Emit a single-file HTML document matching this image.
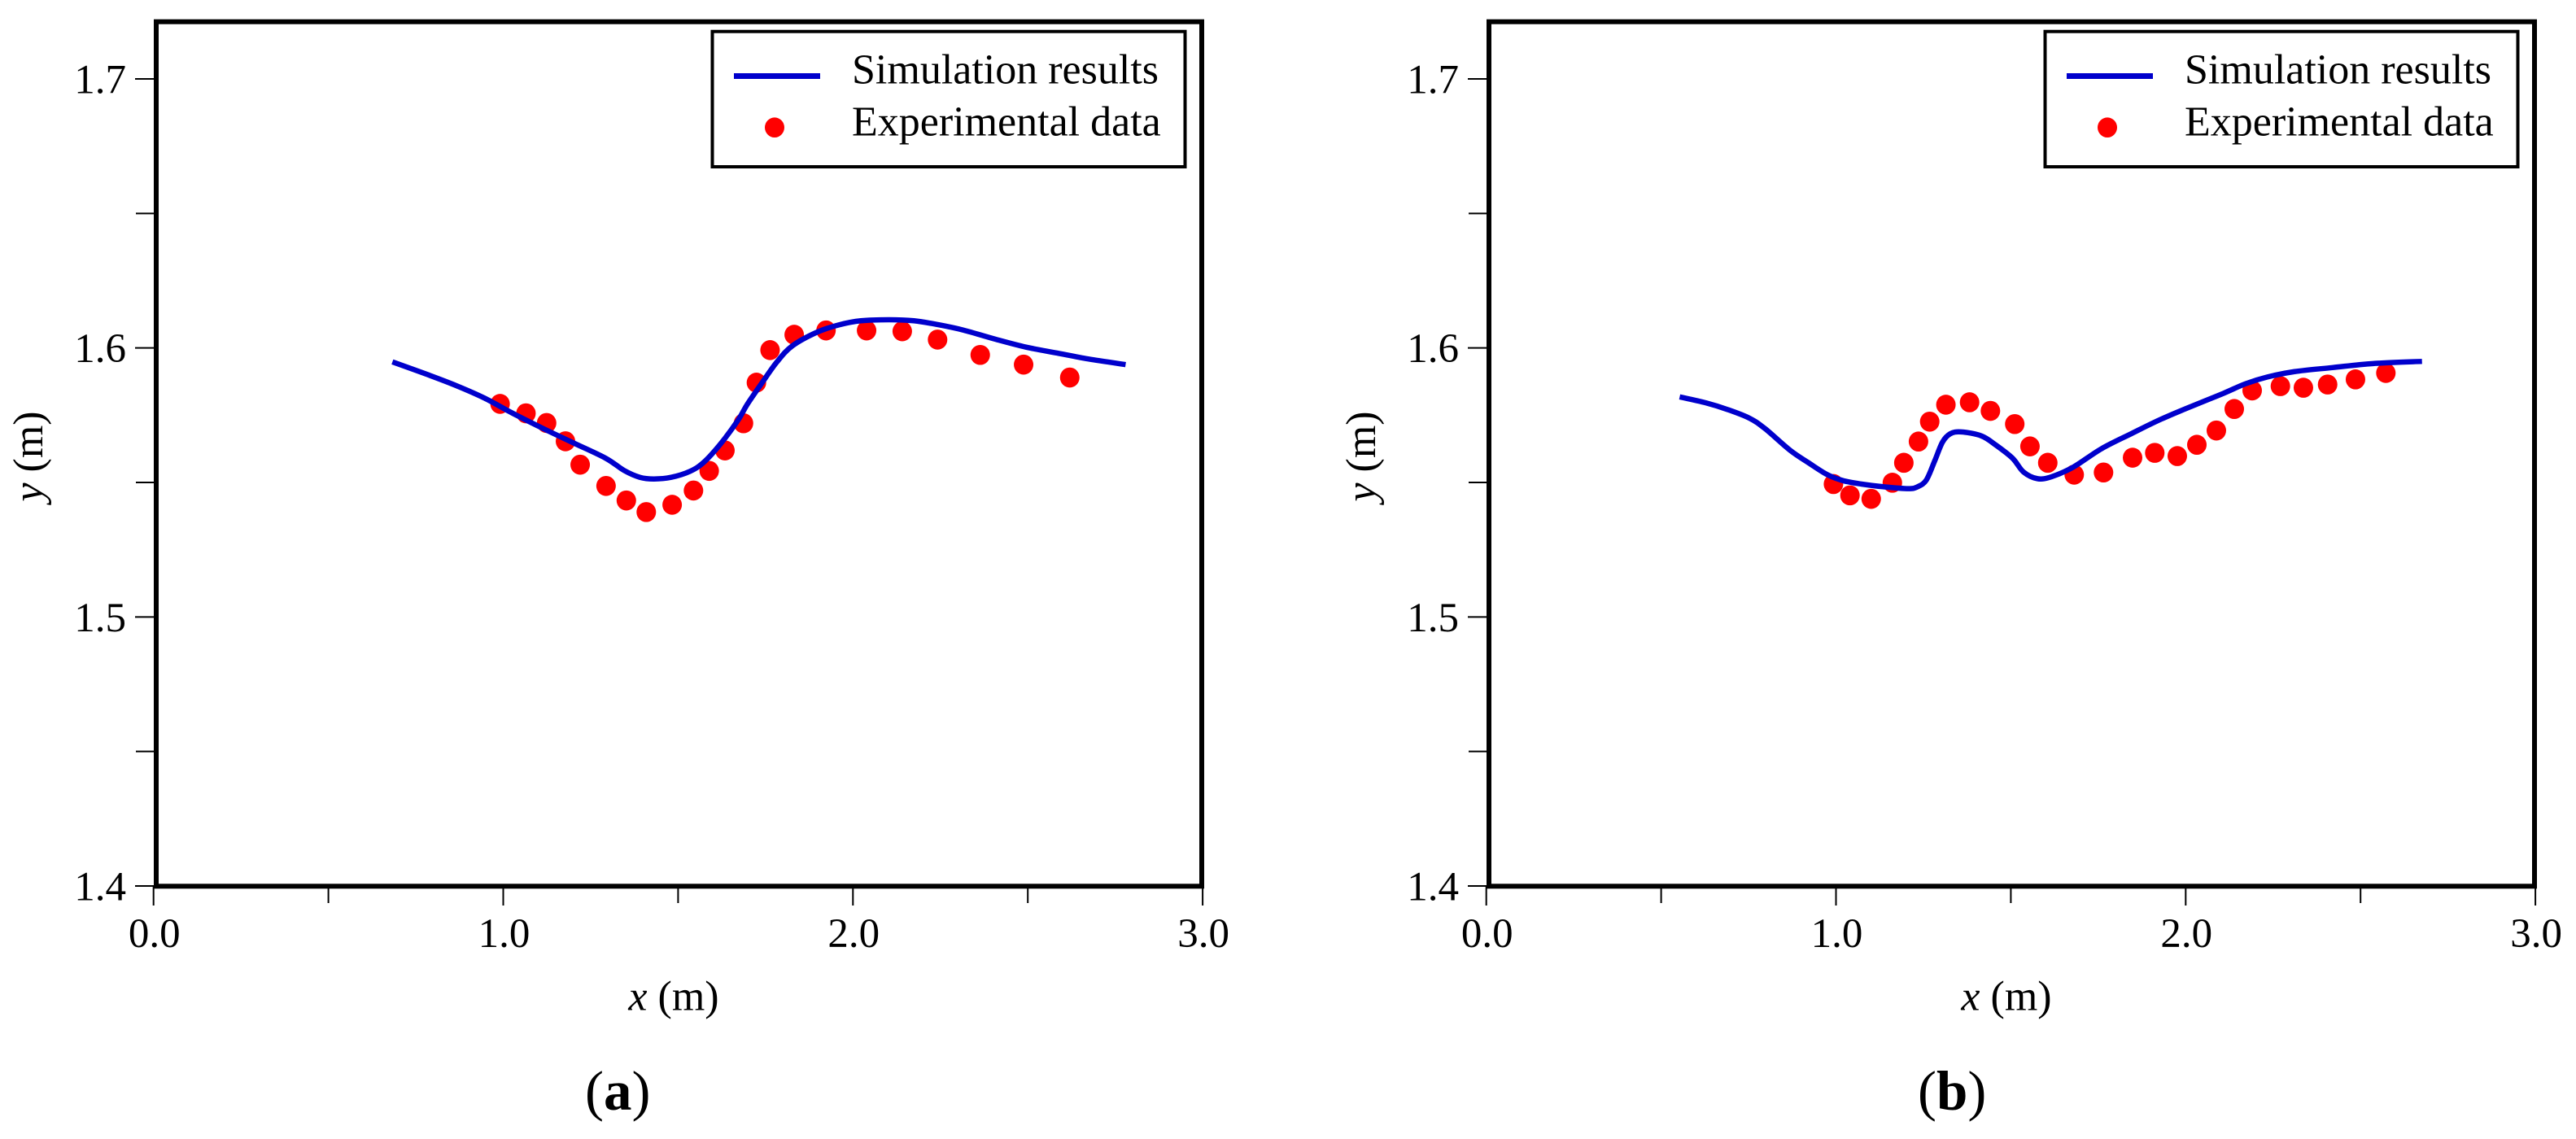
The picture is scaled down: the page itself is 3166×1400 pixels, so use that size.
<!DOCTYPE html>
<html lang="en">
<head>
<meta charset="utf-8">
<title>Simulation results vs experimental data</title>
<style>
  html, body { margin: 0; padding: 0; background: #fff; }
  body { width: 3166px; height: 1400px; overflow: hidden; }
  svg { display: block; font-family: "Liberation Serif", "Times New Roman", serif; fill: #000; }
  .tick-label { font-size: 51px; }
  .axis-title { font-size: 52px; }
  .legend-text { font-size: 52px; }
  .panel-label { font-size: 69px; }
</style>
</head>
<body>
<svg id="figure" width="3166" height="1400" viewBox="0 0 3166 1400" xmlns="http://www.w3.org/2000/svg">
  <rect x="0" y="0" width="3166" height="1400" fill="#fff"/>

  <g id="panel-a">
    <g class="ticks"></g>
    <g class="marks"></g>
    <rect x="192" y="26.7" width="1285" height="1062.6" fill="none" stroke="#000" stroke-width="6"/>
    <text class="axis-title" x="828" y="1241.5" text-anchor="middle"><tspan font-style="italic">x</tspan> (m)</text>
    <text class="axis-title" transform="translate(52 561) rotate(-90)" text-anchor="middle"><tspan font-style="italic">y</tspan> (m)</text>
    <g>
      <rect x="875.5" y="38.7" width="581" height="166.3" fill="#fff" stroke="#000" stroke-width="4"/>
      <line x1="902" y1="93.5" x2="1008" y2="93.5" stroke="#0000cc" stroke-width="7"/>
      <text class="legend-text" x="1047" y="102.5">Simulation results</text>
      <ellipse cx="952" cy="156.7" rx="12" ry="12.3" fill="#ff0000"/>
      <text class="legend-text" x="1047" y="166.5">Experimental data</text>
    </g>
    <text class="panel-label" x="719" y="1364">(<tspan font-weight="bold">a</tspan>)</text>
  </g>

  <g id="panel-b" transform="translate(1638 0)">
    <g class="ticks"></g>
    <g class="marks"></g>
    <rect x="192" y="26.7" width="1285" height="1062.6" fill="none" stroke="#000" stroke-width="6"/>
    <text class="axis-title" x="828" y="1241.5" text-anchor="middle"><tspan font-style="italic">x</tspan> (m)</text>
    <text class="axis-title" transform="translate(52 561) rotate(-90)" text-anchor="middle"><tspan font-style="italic">y</tspan> (m)</text>
    <g>
      <rect x="875.5" y="38.7" width="581" height="166.3" fill="#fff" stroke="#000" stroke-width="4"/>
      <line x1="902" y1="93.5" x2="1008" y2="93.5" stroke="#0000cc" stroke-width="7"/>
      <text class="legend-text" x="1047" y="102.5">Simulation results</text>
      <ellipse cx="952" cy="156.7" rx="12" ry="12.3" fill="#ff0000"/>
      <text class="legend-text" x="1047" y="166.5">Experimental data</text>
    </g>
    <text class="panel-label" x="719" y="1364">(<tspan font-weight="bold">b</tspan>)</text>
  </g>
</svg>

<script>
// Axis tick values
const xMajorTicks = ["0.0", "1.0", "2.0", "3.0"];
const xMinorTicks = [0.5, 1.5, 2.5];
const yMajorTicks = ["1.4", "1.5", "1.6", "1.7"];
const yMinorTicks = [1.45, 1.55, 1.65];

// Panel (a) simulation curve
const simAX = [0.6831,0.7855,0.8655,0.9458,1.0258,1.1149,1.2041,1.2929,1.3464,1.3909,1.4309,1.48,1.5335,1.5735,1.6224,1.6712,1.6982,1.7383,1.7827,1.8271,1.8983,1.9607,2.0228,2.1031,2.1743,2.2455,2.3167,2.4058,2.4949,2.5838,2.6729,2.7797];
const simAY = [1.5948,1.59,1.586,1.5814,1.5758,1.57,1.5645,1.559,1.5544,1.5519,1.5513,1.5519,1.5541,1.5575,1.5645,1.5731,1.5791,1.5867,1.5948,1.6008,1.6059,1.6086,1.6101,1.6105,1.6101,1.6086,1.6066,1.6033,1.6003,1.5981,1.5959,1.5938];

// Panel (a) experimental points
const expAX = [0.991,1.065,1.124,1.178,1.22,1.294,1.352,1.409,1.483,1.544,1.589,1.634,1.687,1.724,1.763,1.832,1.923,2.039,2.141,2.242,2.364,2.488,2.62];
const expAY = [1.5792,1.5757,1.5721,1.5653,1.5566,1.5487,1.5433,1.539,1.5417,1.547,1.5543,1.5619,1.572,1.5871,1.5992,1.6049,1.6065,1.6065,1.6062,1.6031,1.5974,1.5938,1.589];

// Panel (b) simulation curve
const simBX = [0.553,0.6277,0.6901,0.7524,0.7971,0.8683,0.9216,0.9751,1.0195,1.0731,1.1354,1.2066,1.2334,1.2583,1.2822,1.3046,1.3269,1.3581,1.4158,1.456,1.5049,1.5361,1.5761,1.6161,1.6785,1.7587,1.8457,1.9311,2.0319,2.1094,2.1715,2.2336,2.3111,2.4197,2.5361,2.6757];
const simBY = [1.5818,1.5796,1.5771,1.5739,1.57,1.562,1.5573,1.5529,1.5507,1.5494,1.5484,1.5477,1.5484,1.5509,1.558,1.565,1.5681,1.5688,1.5673,1.564,1.559,1.5539,1.5514,1.5521,1.5557,1.5625,1.5682,1.5736,1.5791,1.5832,1.5867,1.5892,1.5912,1.5927,1.5942,1.595];

// Panel (b) experimental points
const expBX = [0.9928,1.04,1.1007,1.1612,1.194,1.2359,1.268,1.3143,1.382,1.4416,1.5112,1.5547,1.6056,1.6812,1.765,1.8481,1.9116,1.976,2.0319,2.0877,2.1389,2.1901,2.2708,2.3366,2.4058,2.4855,2.5724];
const expBY = [1.5494,1.5452,1.5439,1.5499,1.5573,1.5652,1.5726,1.5789,1.5798,1.5766,1.5717,1.5634,1.5573,1.5529,1.5537,1.5592,1.561,1.5598,1.564,1.5693,1.5773,1.5842,1.5858,1.5852,1.5864,1.5883,1.5907];

const SVG_NS = "http://www.w3.org/2000/svg";
function xScale(v) { return 188.7 + 429.8 * v; }
function yScale(v) { return 1089 - 3306.7 * (v - 1.4); }

function svgEl(tag, parent) {
  const el = document.createElementNS(SVG_NS, tag);
  parent.appendChild(el);
  return el;
}

function smoothPath(xs, ys) {
  const p = xs.map(function (x, i) { return [xScale(x), yScale(ys[i])]; });
  let d = "M" + p[0][0].toFixed(2) + " " + p[0][1].toFixed(2);
  for (let i = 0; i < p.length - 1; i++) {
    const a = p[Math.max(0, i - 1)], b = p[i], c = p[i + 1], e = p[Math.min(p.length - 1, i + 2)];
    const c1x = b[0] + (c[0] - a[0]) / 6, c1y = b[1] + (c[1] - a[1]) / 6;
    const c2x = c[0] - (e[0] - b[0]) / 6, c2y = c[1] - (e[1] - b[1]) / 6;
    d += "C" + c1x.toFixed(2) + " " + c1y.toFixed(2) + " " + c2x.toFixed(2) + " " + c2y.toFixed(2) + " " + c[0].toFixed(2) + " " + c[1].toFixed(2);
  }
  return d;
}

function drawAxes(panel) {
  const g = panel.querySelector(".ticks");
  xMajorTicks.forEach(function (label) {
    const v = parseFloat(label);
    const t = svgEl("line", g);
    
    
    t.setAttribute("x1", xScale(v));
    t.setAttribute("x2", xScale(v));
    t.setAttribute("y1", 1089);
    t.setAttribute("y2", 1113);
    t.setAttribute("stroke", "#000");
    t.setAttribute("stroke-width", 2);
    const s = svgEl("text", g);
    
    
    s.setAttribute("class", "tick-label");
    s.setAttribute("x", xScale(v) + 1);
    s.setAttribute("y", 1164);
    s.setAttribute("text-anchor", "middle");
    s.textContent = label;
  });
  xMinorTicks.forEach(function (v) {
    const t = svgEl("line", g);
    
    
    t.setAttribute("x1", xScale(v));
    t.setAttribute("x2", xScale(v));
    t.setAttribute("y1", 1089);
    t.setAttribute("y2", 1110);
    t.setAttribute("stroke", "#000");
    t.setAttribute("stroke-width", 2);
  });
  yMajorTicks.forEach(function (label) {
    const v = parseFloat(label);
    const t = svgEl("line", g);
    
    
    t.setAttribute("x1", 166);
    t.setAttribute("x2", 192);
    t.setAttribute("y1", yScale(v));
    t.setAttribute("y2", yScale(v));
    t.setAttribute("stroke", "#000");
    t.setAttribute("stroke-width", 2);
    const s = svgEl("text", g);
    
    
    s.setAttribute("class", "tick-label");
    s.setAttribute("x", 155);
    s.setAttribute("y", yScale(v) + 17.5);
    s.setAttribute("text-anchor", "end");
    s.textContent = label;
  });
  yMinorTicks.forEach(function (v) {
    const t = svgEl("line", g);
    
    
    t.setAttribute("x1", 167);
    t.setAttribute("x2", 192);
    t.setAttribute("y1", yScale(v));
    t.setAttribute("y2", yScale(v));
    t.setAttribute("stroke", "#000");
    t.setAttribute("stroke-width", 2);
  });
}

function drawSeries(panel, simX, simY, expX, expY) {
  const g = panel.querySelector(".marks");
  expX.forEach(function (x, i) {
    const c = svgEl("ellipse", g);
    
    
    c.setAttribute("cx", xScale(x));
    c.setAttribute("cy", yScale(expY[i]));
    c.setAttribute("rx", 12);
    c.setAttribute("ry", 12.3);
    c.setAttribute("fill", "#ff0000");
  });
  const path = svgEl("path", g);
  
  
  path.setAttribute("d", smoothPath(simX, simY));
  path.setAttribute("fill", "none");
  path.setAttribute("stroke", "#0000cc");
  path.setAttribute("stroke-width", 6.5);
  path.setAttribute("stroke-linejoin", "round");
}

const panelA = document.getElementById("panel-a");
const panelB = document.getElementById("panel-b");
drawAxes(panelA);
drawAxes(panelB);
drawSeries(panelA, simAX, simAY, expAX, expAY);
drawSeries(panelB, simBX, simBY, expBX, expBY);
</script>
</body>
</html>
